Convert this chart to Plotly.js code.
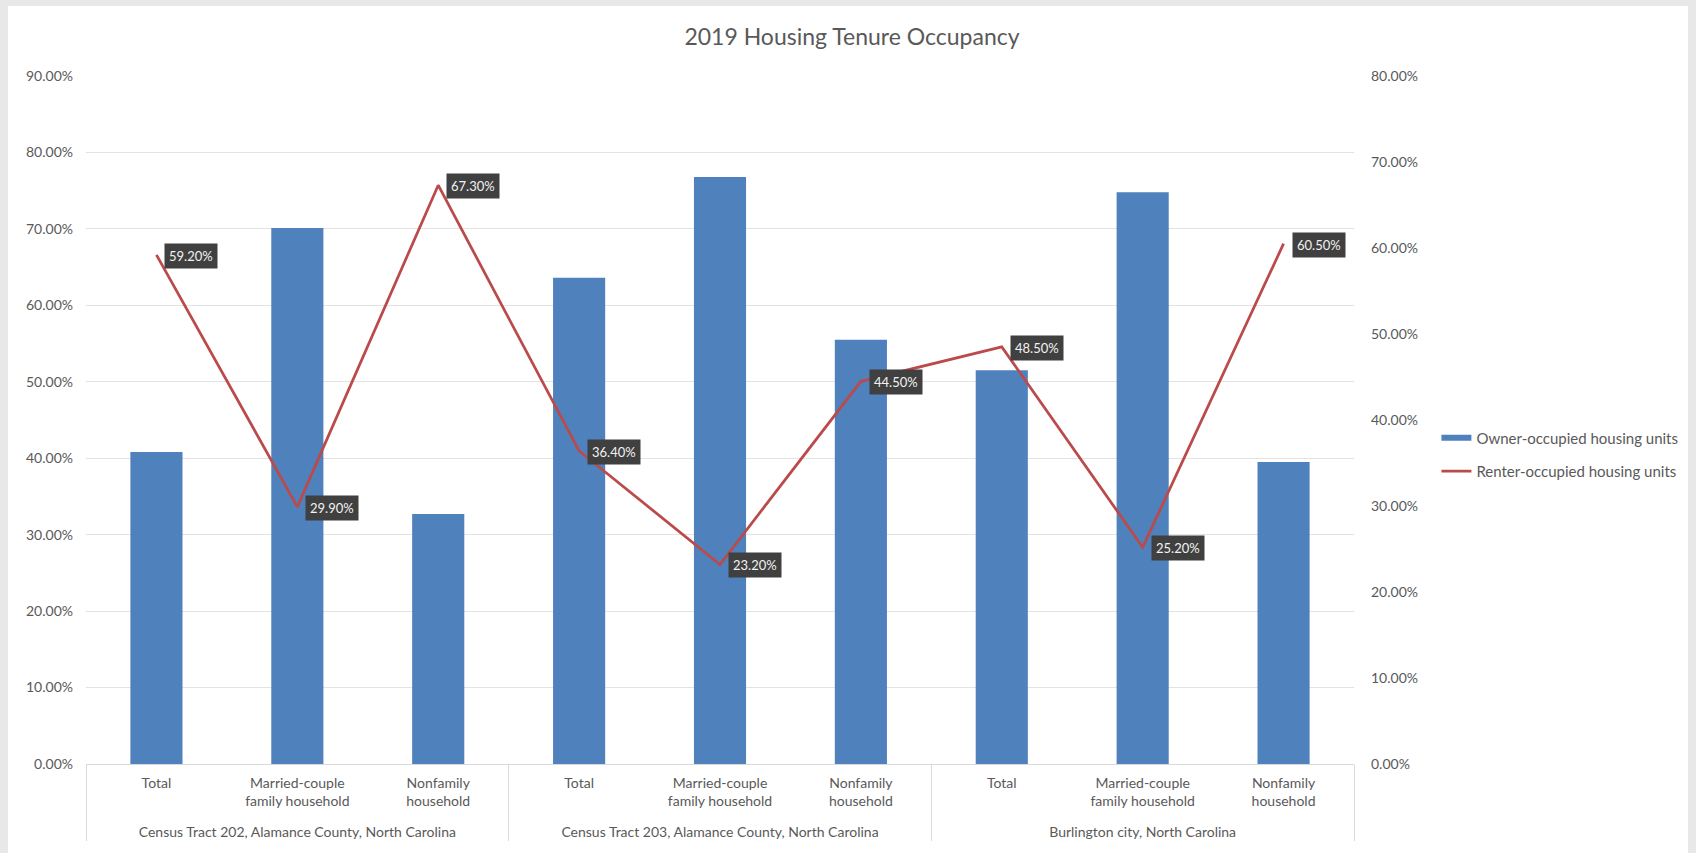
<!DOCTYPE html>
<html><head><meta charset="utf-8">
<script src="https://cdn.plot.ly/plotly-3.0.1.min.js"></script>
<style>
html,body{margin:0;padding:0;background:#e8e8e8;width:1696px;height:853px;overflow:hidden;}
#chart{position:absolute;left:8px;top:6px;width:1680px;height:847px;background:#fff;}
</style></head><body><div id="chart"></div>
<script>
const groups = ["Census Tract 202, Alamance County, North Carolina", "Census Tract 203, Alamance County, North Carolina", "Burlington city, North Carolina"];
const categories = ["Total", "Married-couple<br>family household", "Nonfamily<br>household"];
const ownerOccupied = [40.8, 70.1, 32.7, 63.6, 76.8, 55.5, 51.5, 74.8, 39.5];
const renterOccupied = [59.2, 29.9, 67.3, 36.4, 23.2, 44.5, 48.5, 25.2, 60.5];
const seriesNames = ["Owner-occupied housing units", "Renter-occupied housing units"];
const leftTicks = [0, 10, 20, 30, 40, 50, 60, 70, 80, 90];
const rightTicks = [0, 10, 20, 30, 40, 50, 60, 70, 80];

const xGroup = [], xCat = [];
groups.forEach(g => categories.forEach(c => { xGroup.push(g); xCat.push(c + "<br> "); }));
const xData = [xGroup, xCat];

const FONT = "Lato, 'Open Sans', sans-serif";
const TXT = "#595959";
const BLUE = "#4f81bd";
const RED = "#bb4a4b";

const traces = [
  {type: "bar", x: xData, y: ownerOccupied, name: seriesNames[0], marker: {color: BLUE},
   showlegend: false, hoverinfo: "y"},
  {type: "scatter", mode: "lines", x: [[xGroup[0]], [xCat[0]]], y: [null], name: seriesNames[0], legendgroup: "a",
   line: {color: BLUE, width: 6}, yaxis: "y", hoverinfo: "skip"},
  {type: "scatter", mode: "lines", x: xData, y: renterOccupied, name: seriesNames[1], legendgroup: "b",
   line: {color: RED, width: 2.75}, yaxis: "y2"}
];

const annotations = renterOccupied.map((v, i) => ({
  x: i, y: v, xref: "x", yref: "y2", text: v.toFixed(2) + "%",
  showarrow: false, xanchor: "left", yanchor: "middle", xshift: 8, yshift: -1,
  bgcolor: "#404040", borderpad: 4, font: {family: FONT, size: 13, color: "#f2f2f2"}
}));

const layout = {
  width: 1680, height: 847,
  margin: {l: 78, r: 333.6, t: 69.7, b: 89.4, autoexpand: false},
  paper_bgcolor: "#ffffff", plot_bgcolor: "#ffffff",
  font: {family: FONT, size: 14, color: TXT},
  title: {text: "2019 Housing Tenure Occupancy", font: {family: FONT, size: 23, color: TXT},
          x: 844/1680, xref: "container", xanchor: "center", y: 1 - 31/847, yref: "container", yanchor: "middle"},
  bargap: 0.63,
  showlegend: true,
  legend: {x: 1.065, xanchor: "left", y: 0.45, yanchor: "middle", traceorder: "grouped",
           tracegroupgap: 11, font: {family: FONT, size: 15, color: TXT}, bgcolor: "rgba(0,0,0,0)"},
  xaxis: {type: "multicategory", showdividers: true, dividercolor: "#d9d9d9", dividerwidth: 1,
          showline: true, linecolor: "#d9d9d9", linewidth: 1, ticks: "", showgrid: false,
          ticklabelstandoff: 6,
          tickfont: {family: FONT, size: 14, color: TXT}, fixedrange: true},
  yaxis: {range: [0, 90], tickvals: leftTicks, ticktext: leftTicks.map(t => t.toFixed(2) + "%"),
          showgrid: true, gridcolor: "#e3e3e3", gridwidth: 1, zeroline: false, showline: false,
          ticks: "", ticklabelstandoff: 12, tickfont: {family: FONT, size: 14, color: TXT}},
  yaxis2: {range: [0, 80], tickvals: rightTicks, ticktext: rightTicks.map(t => t.toFixed(2) + "%"),
           overlaying: "y", side: "right", showgrid: false, zeroline: false, showline: false,
           ticks: "", ticklabelstandoff: 16, tickfont: {family: FONT, size: 14, color: TXT}},
  annotations: annotations
};

Plotly.newPlot("chart", traces, layout, {displayModeBar: false, responsive: false});
</script></body></html>
